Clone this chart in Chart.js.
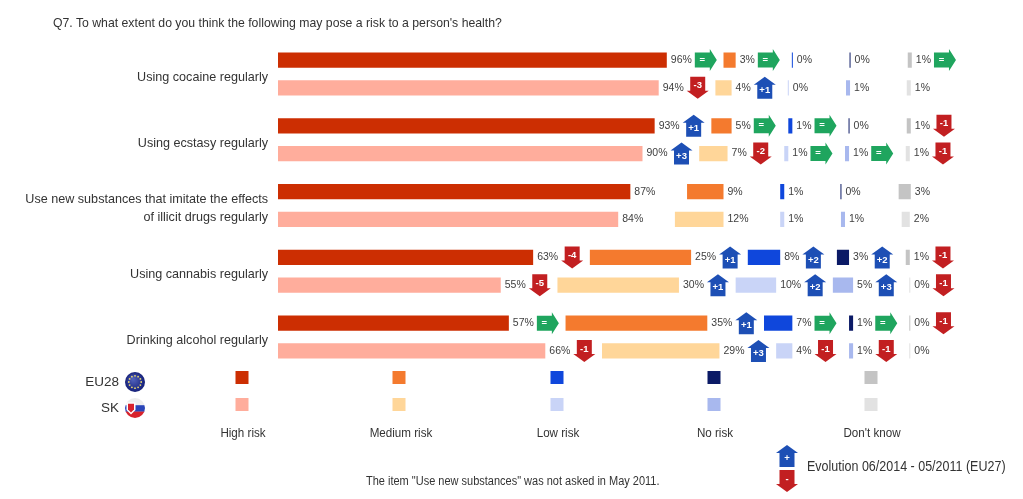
<!DOCTYPE html>
<html lang="en">
<head>
    <meta charset="UTF-8">
    <title>Q7 risk to health</title>
    <style>
        body {
            margin: 0;
            background: #fff;
            font-family: "Liberation Sans", Arial, sans-serif;
            color: #333;
        }
        #wrap {
            position: relative;
            width: 1023px;
            height: 499px;
            overflow: hidden;
        }
        canvas {
            position: absolute;
            left: 0;
            top: 0;
        }
        .txt {
            position: absolute;
            white-space: nowrap;
            line-height: 16px;
        }
        /* the reference text is slightly squeezed sideways */
        .narrow {
            transform-origin: left center;
        }
        .legend-label {
            width: 120px;
            margin-left: -60px;
            text-align: center;
            font-size: 12.5px;
            top: 425px;
            transform: scaleX(0.93);
        }
    </style>
    <script src="https://cdn.jsdelivr.net/npm/chart.js"></script>
</head>
<body>
<div id="wrap">
    <canvas id="chart" width="1023" height="499"></canvas>
    <div class="txt" style="left:53px;top:15px;font-size:12.25px">Q7. To what extent do you think the following may pose a risk to a person's health?</div>
    <div class="txt" style="right:904px;top:374px;font-size:13.5px">EU28</div>
    <div class="txt" style="right:904px;top:400px;font-size:13.5px">SK</div>
    <div class="txt narrow" style="left:366px;top:473px;font-size:12px;transform:scaleX(0.916)">The item "Use new substances" was not asked in May 2011.</div>
    <div class="txt narrow" style="left:807px;top:458px;font-size:14px;transform:scaleX(0.893)">Evolution 06/2014 - 05/2011 (EU27)</div>
</div>
<script>
    const categories = [
        'Using cocaine regularly',
        'Using ecstasy regularly',
        ['Use new substances that imitate the effects', 'of illicit drugs regularly'],
        'Using cannabis regularly',
        'Drinking alcohol regularly'
    ];
    const legendLabels = ['High risk', 'Medium risk', 'Low risk', 'No risk', "Don't know"];

    // percentages, EU28
    const highEU = [96, 93, 87, 63, 57];
    const mediumEU = [3, 5, 9, 25, 35];
    const lowEU = [0, 1, 1, 8, 7];
    const noEU = [0, 0, 0, 3, 1];
    const dkEU = [1, 1, 3, 1, 0];

    // percentages, SK
    const highSK = [94, 90, 84, 55, 66];
    const mediumSK = [4, 7, 12, 30, 29];
    const lowSK = [0, 1, 1, 10, 4];
    const noSK = [1, 1, 1, 5, 1];
    const dkSK = [1, 1, 2, 0, 0];

    // evolution arrows
    const evoHighEU = ['=', '+1', null, '-4', '='];
    const evoMediumEU = ['=', '=', null, '+1', '+1'];
    const evoLowEU = [null, '=', null, '+2', '='];
    const evoNoEU = [null, null, null, '+2', '='];
    const evoDkEU = ['=', '-1', null, '-1', '-1'];
    const evoHighSK = ['-3', '+3', null, '-5', '-1'];
    const evoMediumSK = ['+1', '-2', null, '+1', '+3'];
    const evoLowSK = [null, '=', null, '+2', '-1'];
    const evoNoSK = [null, '=', null, '+3', '-1'];
    const evoDkSK = [null, '-1', null, '-1', null];

    // blank space between the answers, in percentage points
    const gap = [14, 14, 14, 14, 14];

    const colorsEU = ['#cc2e02', '#f47a2e', '#0f47dc', '#0b1a66', '#c4c4c4'];
    const colorsSK = ['#ffad9c', '#ffd699', '#c9d4f7', '#a8b8ee', '#e2e2e2'];
    const GREEN = '#1fa55e', BLUE = '#1d4fb5', RED = '#c21f21';

    const rows = [
        { stack: 'eu', values: [highEU, mediumEU, lowEU, noEU, dkEU], evo: [evoHighEU, evoMediumEU, evoLowEU, evoNoEU, evoDkEU], colors: colorsEU },
        { stack: 'sk', values: [highSK, mediumSK, lowSK, noSK, dkSK], evo: [evoHighSK, evoMediumSK, evoLowSK, evoNoSK, evoDkSK], colors: colorsSK }
    ];

    const datasets = [];
    rows.forEach(row => {
        row.values.forEach((vals, i) => {
            datasets.push({
                data: vals,
                stack: row.stack,
                backgroundColor: row.colors[i],
                minBarLength: 1,
                evo: row.evo[i]
            });
            if (i < row.values.length - 1) {
                datasets.push({ data: gap, stack: row.stack, backgroundColor: 'transparent', isGap: true });
            }
        });
    });

    function drawArrow(ctx, x, y, code) {
        const w = 22, h = 22;
        ctx.beginPath();
        if (code === '=') {
            ctx.fillStyle = GREEN;
            ctx.moveTo(x, y - 7.5);
            ctx.lineTo(x + 15, y - 7.5);
            ctx.lineTo(x + 15, y - 11);
            ctx.lineTo(x + w, y);
            ctx.lineTo(x + 15, y + 11);
            ctx.lineTo(x + 15, y + 7.5);
            ctx.lineTo(x, y + 7.5);
        } else if (code[0] === '+') {
            ctx.fillStyle = BLUE;
            ctx.moveTo(x + w / 2, y - h / 2);
            ctx.lineTo(x + w, y - 3);
            ctx.lineTo(x + 18.5, y - 3);
            ctx.lineTo(x + 18.5, y + h / 2);
            ctx.lineTo(x + 3.5, y + h / 2);
            ctx.lineTo(x + 3.5, y - 3);
            ctx.lineTo(x, y - 3);
        } else {
            ctx.fillStyle = RED;
            ctx.moveTo(x + 3.5, y - h / 2);
            ctx.lineTo(x + 18.5, y - h / 2);
            ctx.lineTo(x + 18.5, y + 3);
            ctx.lineTo(x + w, y + 3);
            ctx.lineTo(x + w / 2, y + h / 2);
            ctx.lineTo(x, y + 3);
            ctx.lineTo(x + 3.5, y + 3);
            ctx.lineTo(x + 3.5, y - h / 2);
        }
        ctx.closePath();
        ctx.fill();
        ctx.fillStyle = '#fff';
        ctx.font = 'bold 9.5px "Liberation Sans", Arial, sans-serif';
        ctx.textAlign = 'center';
        ctx.textBaseline = 'middle';
        const dy = code === '=' ? 0 : (code[0] === '+' ? 2.5 : -2);
        const dx = code === '=' ? 7.5 : 11;
        ctx.fillText(code, x + dx, y + dy);
    }

    function drawEuFlag(ctx, x, y, r) {
        const g = ctx.createRadialGradient(x - 2, y - 3, 1, x, y, r);
        g.addColorStop(0, '#4f5fb8');
        g.addColorStop(1, '#141f78');
        ctx.fillStyle = g;
        ctx.beginPath();
        ctx.arc(x, y, r, 0, Math.PI * 2);
        ctx.fill();
        ctx.fillStyle = '#e8d872';
        for (let i = 0; i < 12; i++) {
            const a = i * Math.PI / 6;
            ctx.beginPath();
            ctx.arc(x + Math.cos(a) * r * 0.62, y + Math.sin(a) * r * 0.62, 0.9, 0, Math.PI * 2);
            ctx.fill();
        }
    }

    function drawSkFlag(ctx, x, y, r) {
        ctx.save();
        ctx.beginPath();
        ctx.arc(x, y, r, 0, Math.PI * 2);
        ctx.clip();
        ctx.fillStyle = '#eeeeee';
        ctx.fillRect(x - r, y - r, r * 2, r * 0.75);
        ctx.fillStyle = '#2a45b8';
        ctx.fillRect(x - r, y - r * 0.28, r * 2, r * 0.66);
        ctx.fillStyle = '#d8222c';
        ctx.fillRect(x - r, y + r * 0.36, r * 2, r * 0.7);
        // shield
        ctx.fillStyle = '#fff';
        ctx.beginPath();
        ctx.moveTo(x - r * 0.85, y - r * 0.55);
        ctx.lineTo(x + r * 0.05, y - r * 0.55);
        ctx.lineTo(x + r * 0.05, y + r * 0.2);
        ctx.lineTo(x - r * 0.4, y + r * 0.65);
        ctx.lineTo(x - r * 0.85, y + r * 0.2);
        ctx.closePath();
        ctx.fill();
        ctx.fillStyle = '#d8222c';
        ctx.beginPath();
        ctx.moveTo(x - r * 0.7, y - r * 0.42);
        ctx.lineTo(x - r * 0.1, y - r * 0.42);
        ctx.lineTo(x - r * 0.1, y + r * 0.15);
        ctx.lineTo(x - r * 0.4, y + r * 0.45);
        ctx.lineTo(x - r * 0.7, y + r * 0.15);
        ctx.closePath();
        ctx.fill();
        ctx.restore();
    }

    const extras = {
        id: 'extras',
        afterDatasetsDraw(chart) {
            const ctx = chart.ctx;
            ctx.save();
            // value labels and evolution arrows
            chart.data.datasets.forEach((ds, d) => {
                if (ds.isGap) return;
                chart.getDatasetMeta(d).data.forEach((bar, i) => {
                    const txt = ds.data[i] + '%';
                    ctx.font = '10.5px "Liberation Sans", Arial, sans-serif';
                    ctx.fillStyle = '#404040';
                    ctx.textAlign = 'left';
                    ctx.textBaseline = 'middle';
                    ctx.fillText(txt, bar.x + 4, bar.y);
                    if (ds.evo[i]) {
                        drawArrow(ctx, bar.x + 4 + ctx.measureText(txt).width + 3, bar.y, ds.evo[i]);
                    }
                });
            });
            // legend squares
            const legendX = [242, 399, 557, 714, 871];
            legendX.forEach((x, i) => {
                ctx.fillStyle = colorsEU[i];
                ctx.fillRect(x - 6.5, 371, 13, 13);
                ctx.fillStyle = colorsSK[i];
                ctx.fillRect(x - 6.5, 398, 13, 13);
            });
            drawEuFlag(ctx, 135, 382, 10);
            drawSkFlag(ctx, 135, 408, 10);
            drawArrow(ctx, 776, 456, '+');
            drawArrow(ctx, 776, 481, '-');
            ctx.restore();
        }
    };

    new Chart(document.getElementById('chart'), {
        type: 'bar',
        data: { labels: categories, datasets: datasets },
        plugins: [extras],
        options: {
            indexAxis: 'y',
            responsive: false,
            animation: false,
            categoryPercentage: 0.843,
            barPercentage: 0.55,
            layout: { padding: { top: 41, bottom: 129, left: 0, right: 56.5 } },
            plugins: { legend: { display: false }, tooltip: { enabled: false } },
            scales: {
                x: { stacked: true, display: false, min: 0, max: 170 },
                y: {
                    stacked: true,
                    afterFit(scale) { scale.width = 278; },
                    border: { display: false },
                    grid: { display: false, drawTicks: false },
                    ticks: {
                        padding: 10,
                        labelOffset: 3.5,
                        color: '#333',
                        autoSkip: false,
                        font: { family: '"Liberation Sans", Arial, sans-serif', size: 12.6, lineHeight: 1.43 }
                    }
                }
            }
        }
    });

    const wrap = document.getElementById('wrap');
    [243, 401, 558, 715, 872].forEach((x, i) => {
        const el = document.createElement('div');
        el.className = 'txt legend-label';
        el.style.left = x + 'px';
        el.textContent = legendLabels[i];
        wrap.appendChild(el);
    });
</script>
</body>
</html>
